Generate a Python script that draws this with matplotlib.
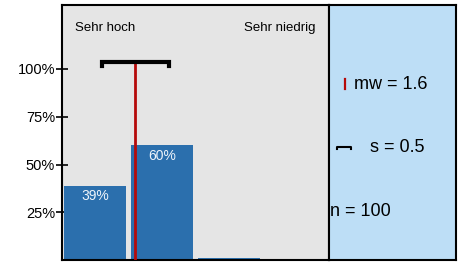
import matplotlib.pyplot as plt
import numpy as np

plt.rcParams['font.family'] = ['Liberation Sans', 'DejaVu Sans']

categories = ['Sehr hoch', '2', '3', 'Sehr niedrig']
percent = np.array([39, 60, 1, 0])
mean_value = 1.6
sd_value = 0.5
n_value = 100
yticks = [25, 50, 75, 100]

bar_color = '#2b6fad'
red = '#b50a0a'

fig = plt.figure(figsize=(4.63, 2.62), dpi=100)
ax = fig.add_axes([0.1339, 0.0076, 0.5767, 0.9733])
ax.set_facecolor('#e5e5e5')

x = np.arange(len(categories))
bars = ax.bar(x, percent, width=0.93, color=bar_color, zorder=2)
for xi, p in zip(x, percent):
    if p >= 10:
        ax.text(xi, p - 2, f'{p}%', color='#eef4fa', ha='center', va='top', fontsize=10, zorder=3)

# mean line and standard deviation bracket (scale 1..4 -> positions 0..3)
m = mean_value - 1
ax.plot([m, m], [0, 103.5], color=red, lw=2, zorder=4)
ax.plot([m - sd_value, m - sd_value, m + sd_value, m + sd_value],
        [101.5, 103.5, 103.5, 101.5], color='black', lw=3, zorder=5,
        solid_joinstyle='miter')

ax.text(x[0] - 0.3, 121.5, categories[0], ha='left', va='center', fontsize=9.5)
ax.text(x[-1] + 0.3, 121.5, categories[-1], ha='right', va='center', fontsize=9.5)

ax.set_xlim(-0.5, 3.5)
ax.set_ylim(0, 133.5)
ax.set_xticks([])
ax.set_yticks(yticks)
ax.set_yticklabels([f'{t}%' for t in yticks], fontsize=10.5)
ax.tick_params(axis='y', direction='inout', length=8, width=1.2, pad=1)
for s in ax.spines.values():
    s.set_linewidth(1.5)

side = fig.add_axes([0.7106, 0.0076, 0.2743, 0.9733])
side.set_facecolor('#bddef6')
side.set_xlim(0, 1)
side.set_ylim(0, 1)
side.set_xticks([])
side.set_yticks([])
for s in side.spines.values():
    s.set_linewidth(1.5)
side.plot([0.125, 0.125], [0.67, 0.71], color=red, lw=1.6)
side.text(0.2, 0.69, f'mw = {mean_value}', fontsize=13, va='center', ha='left')
side.plot([0.06, 0.06, 0.17, 0.17], [0.435, 0.445, 0.445, 0.435], color='black', lw=1.5)
side.text(0.32, 0.44, f's = {sd_value}', fontsize=13, va='center', ha='left')
side.text(0.005, 0.19, f'n = {n_value}', fontsize=13, va='center', ha='left')

fig.savefig('out.png', dpi=100)
